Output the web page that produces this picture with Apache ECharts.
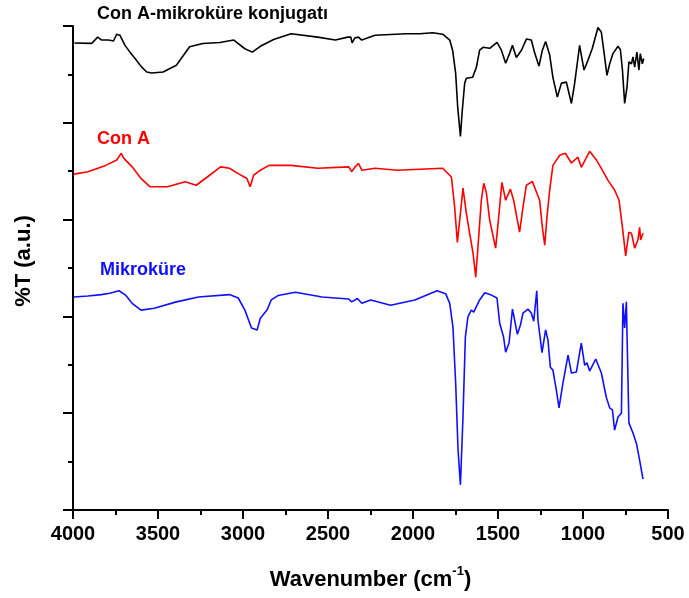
<!DOCTYPE html>
<html>
<head>
<meta charset="utf-8">
<script src="https://cdn.jsdelivr.net/npm/echarts@6/dist/echarts.min.js"></script>
<style>
html,body{margin:0;padding:0;background:#fff;}
#chart{width:689px;height:598px;}
</style>
</head>
<body>
<div id="chart"></div>
<script>
// ---- data (wavenumber, cm-1) and %T (arbitrary units) ----
const conjWn = [3992,3890,3855,3831,3792,3762,3743,3724,3714,3694,3665,3635,3596,3566,3537,3470,3392,3314,3236,3137,3054,2989,2945,2898,2820,2717,2561,2457,2384,2366,2358,2343,2321,2302,2223,2041,1961,1884,1825,1784,1767,1749,1737,1721,1710,1696,1686,1649,1627,1608,1588,1549,1506,1480,1455,1431,1415,1392,1362,1333,1304,1284,1259,1239,1220,1196,1177,1151,1127,1098,1068,1049,1020,994,971,945,912,892,873,859,843,824,794,780,768,755,741,730,715,706,696,683,671,663,651,643];
const conjT = [96.5,96.4,97.7,97.1,97.1,96.9,98.3,98.1,97.4,96.0,94.6,93.3,91.5,90.5,90.3,90.5,91.9,95.7,96.4,96.6,97.1,95.3,94.6,95.8,97.2,98.4,97.7,97.1,97.7,97.7,96.5,97.5,97.7,97.1,98.1,98.4,98.4,98.6,98.3,97.1,95.0,90.2,83.2,77.2,82.6,88.2,89.2,89.4,91.5,95.0,95.6,95.4,96.6,95.0,92.3,94.4,96.0,93.5,95.0,97.3,97.1,94.4,91.7,95.0,96.8,94.0,89.4,85.3,88.2,88.4,84.0,88.2,96.0,90.9,92.9,95.4,99.7,98.7,93.6,89.8,92.2,94.3,95.8,95.1,90.9,84.0,87.4,92.6,92.2,93.6,91.5,94.6,90.9,94.3,92.2,93.3];

const conAWn = [3995,3912,3808,3743,3716,3702,3691,3652,3600,3548,3444,3340,3275,3210,3132,3080,3028,2977,2958,2937,2898,2847,2717,2561,2378,2361,2340,2321,2301,2223,2093,1961,1825,1774,1755,1739,1721,1706,1686,1667,1647,1631,1612,1598,1584,1568,1549,1514,1496,1477,1455,1427,1408,1373,1353,1333,1298,1274,1255,1239,1225,1212,1196,1177,1137,1104,1068,1030,1010,961,921,892,853,814,788,768,749,730,715,696,677,667,661,647];
const conAT = [69.4,69.9,71.2,72.3,73.7,72.7,73.0,70.9,68.5,66.8,66.8,67.8,67.1,68.8,70.9,70.6,69.5,68.5,66.8,69.2,70.2,71.2,71.2,70.6,70.9,69.9,70.9,71.6,70.2,70.6,70.2,70.4,70.6,68.8,62.6,55.3,61.3,66.5,61.3,57.2,53.1,48.1,57.2,64.0,67.5,65.5,59.9,54.1,60.5,67.7,64.0,66.3,64.0,57.4,62.6,67.1,67.9,65.7,64.0,58.4,54.7,60.5,66.1,71.2,73.3,73.7,71.7,72.9,70.8,74.1,72.3,70.6,68.1,66.1,64.0,58.4,52.5,57.4,57.2,54.1,55.8,58.4,55.8,57.2];

const mikroWn = [3995,3912,3834,3784,3729,3691,3652,3600,3522,3392,3262,3080,3028,2989,2950,2917,2898,2859,2834,2794,2691,2535,2378,2361,2327,2301,2249,2132,1989,1859,1808,1784,1765,1749,1735,1721,1706,1692,1677,1657,1643,1608,1578,1539,1506,1490,1467,1455,1435,1415,1402,1386,1368,1353,1324,1304,1290,1272,1265,1255,1241,1220,1206,1192,1177,1157,1141,1118,1088,1068,1039,1010,990,977,961,925,892,863,843,827,814,794,774,765,755,745,730,706,686,667,647];
const mikroT = [44.0,44.2,44.5,44.8,45.3,44.4,42.7,41.3,41.7,43.0,44.0,44.5,43.8,41.3,37.6,37.2,39.6,41.3,43.4,44.3,45.0,44.0,43.6,43.0,43.7,42.7,43.4,42.3,43.4,45.3,44.7,42.7,37.8,26.2,12.4,5.2,19.2,35.7,39.9,41.3,40.9,43.4,44.9,44.4,43.8,38.6,35.7,32.6,34.5,41.5,39.2,36.3,38.2,40.7,41.5,40.7,39.0,45.3,39.2,39.6,32.5,37.2,35.1,29.5,28.9,24.8,21.1,26.2,32.0,28.3,28.5,34.5,29.9,30.4,28.7,31.2,28.3,23.3,21.1,20.7,16.5,19.2,20.0,42.7,37.6,43.0,18.0,15.9,13.8,10.3,6.4];

const seriesNames = ['Con A-mikroküre konjugatı', 'Con A', 'Mikroküre'];
const xTicks = [4000, 3500, 3000, 2500, 2000, 1500, 1000, 500];

function pairs(xs, ys) { return xs.map((x, i) => [x, ys[i]]); }

const chart = echarts.init(document.getElementById('chart'), null, {renderer: 'canvas'});
const fontFam = '"Liberation Sans", Arial, sans-serif';

chart.setOption({
  animation: false,
  backgroundColor: '#ffffff',
  grid: {left: 73, right: 21, top: 26, bottom: 88, containLabel: false},
  xAxis: {
    type: 'value',
    inverse: true,
    min: 500, max: 4000, interval: 500,
    axisLine: {show: true, lineStyle: {color: '#000', width: 2}},
    axisTick: {show: true, inside: false, length: 9, lineStyle: {color: '#000', width: 2}},
    minorTick: {show: true, splitNumber: 2, length: 5, lineStyle: {color: '#000', width: 2}},
    splitLine: {show: false},
    axisLabel: {
      color: '#000', fontWeight: 'bold', fontSize: 20, fontFamily: fontFam, margin: 14,
      formatter: v => xTicks.indexOf(v) >= 0 ? String(v) : ''
    },
    name: '{a|Wavenumber (cm}{s|-1}{a|)}',
    nameLocation: 'middle',
    nameGap: 55,
    nameTextStyle: {
      rich: {
        a: {color: '#000', fontWeight: 'bold', fontSize: 22, fontFamily: fontFam, verticalAlign: 'bottom', lineHeight: 26},
        s: {color: '#000', fontWeight: 'bold', fontSize: 13, fontFamily: fontFam, verticalAlign: 'top', lineHeight: 26, padding: [0, 0, 12, 0]}
      }
    }
  },
  yAxis: {
    type: 'value',
    min: 0, max: 100, interval: 20,
    axisLine: {show: true, lineStyle: {color: '#000', width: 2}},
    axisTick: {show: true, inside: false, length: 10, lineStyle: {color: '#000', width: 2}},
    minorTick: {show: true, splitNumber: 2, length: 5, lineStyle: {color: '#000', width: 2}},
    splitLine: {show: false},
    axisLabel: {show: false},
    name: '%T (a.u.)',
    nameLocation: 'middle',
    nameGap: 38,
    nameRotate: 90,
    nameTextStyle: {color: '#000', fontWeight: 'bold', fontSize: 22, fontFamily: fontFam, padding: [0, 0, 0, 14]}
  },
  series: [
    {name: seriesNames[0], type: 'line', data: pairs(conjWn, conjT), showSymbol: false, smooth: false,
     lineStyle: {color: '#000000', width: 1.6}, itemStyle: {color: '#000'}},
    {name: seriesNames[1], type: 'line', data: pairs(conAWn, conAT), showSymbol: false,
     lineStyle: {color: '#ff0000', width: 1.6}, itemStyle: {color: '#ff0000'}},
    {name: seriesNames[2], type: 'line', data: pairs(mikroWn, mikroT), showSymbol: false,
     lineStyle: {color: '#1010ff', width: 1.6}, itemStyle: {color: '#1010ff'}}
  ],
  graphic: [
    {type: 'text', left: 97, top: 5, style: {text: seriesNames[0], fill: '#000', font: 'bold 18px ' + fontFam}},
    {type: 'text', left: 97, top: 130, style: {text: seriesNames[1], fill: '#ff0000', font: 'bold 18px ' + fontFam}},
    {type: 'text', left: 100, top: 261, style: {text: seriesNames[2], fill: '#1010ff', font: 'bold 18px ' + fontFam}}
  ]
});
</script>
</body>
</html>
